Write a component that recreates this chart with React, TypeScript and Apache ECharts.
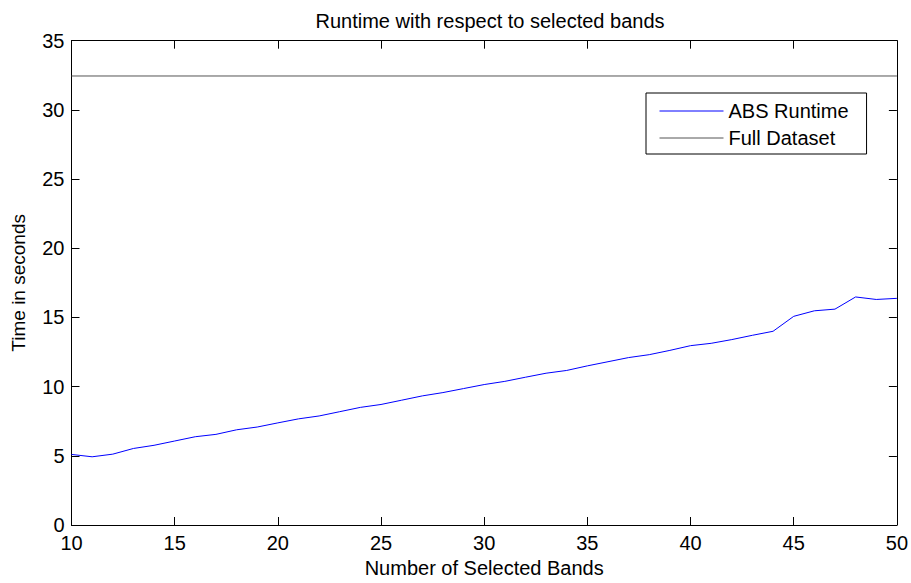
import React, { useEffect, useRef } from "react";
import * as echarts from "echarts";

const bands: number[] = [
  10, 11, 12, 13, 14, 15, 16, 17, 18, 19, 20, 21, 22, 23, 24, 25, 26, 27, 28, 29,
  30, 31, 32, 33, 34, 35, 36, 37, 38, 39, 40, 41, 42, 43, 44, 45, 46, 47, 48, 49, 50,
];
const absRuntime: number[] = [
  5.1, 4.93, 5.12, 5.53, 5.76, 6.07, 6.38, 6.55, 6.88, 7.08, 7.38, 7.67, 7.88, 8.19,
  8.5, 8.71, 9.02, 9.33, 9.57, 9.86, 10.15, 10.38, 10.68, 10.97, 11.17, 11.5, 11.8,
  12.1, 12.31, 12.62, 12.96, 13.13, 13.4, 13.71, 14.0, 15.08, 15.48, 15.6, 16.48,
  16.3, 16.38,
];
const fullDatasetBands: number[] = [10, 50];
const fullDatasetTime: number[] = [32.45, 32.45];
const seriesNames: string[] = ["ABS Runtime", "Full Dataset"];
const titleText = "Runtime with respect to selected bands";
const xAxisName = "Number of Selected Bands";
const yAxisName = "Time in seconds";

const FONT = "'Liberation Sans', Arial, Helvetica, sans-serif";

export default function App() {
  const ref = useRef<HTMLDivElement>(null);

  useEffect(() => {
    document.body.style.margin = "0";
    if (!ref.current) return;
    const chart = echarts.init(ref.current, undefined, { renderer: "svg" });

    const baseAxis = {
      axisLine: { show: true, onZero: false, lineStyle: { color: "#000", width: 1 } },
      axisTick: { show: true, inside: true, length: 8, lineStyle: { color: "#000", width: 1 } },
      splitLine: { show: false },
    };

    chart.setOption({
      animation: false,
      backgroundColor: "#fff",
      textStyle: { fontFamily: FONT },
      title: {
        text: titleText,
        left: 485,
        top: 6,
        textAlign: "center",
        textStyle: { fontFamily: FONT, fontSize: 20, fontWeight: "normal", color: "#000" },
      },
      legend: {
        orient: "vertical",
        left: 646,
        top: 93,
        padding: [8, 18, 6, 13],
        itemGap: 7,
        itemWidth: 64,
        itemHeight: 14,
        borderColor: "#000",
        borderWidth: 1,
        backgroundColor: "#fff",
        itemStyle: { opacity: 0 },
        lineStyle: { width: 1 },
        textStyle: { fontFamily: FONT, fontSize: 20, color: "#000" },
        data: [seriesNames[0], seriesNames[1]],
      },
      grid: { left: 71.5, right: 12, top: 40.7, bottom: 52.3, containLabel: false },
      xAxis: [
        {
          ...baseAxis,
          type: "value",
          position: "bottom",
          min: 10,
          max: 50,
          interval: 5,
          name: xAxisName,
          nameLocation: "middle",
          nameGap: 33,
          nameTextStyle: { fontFamily: FONT, fontSize: 20, color: "#000" },
          axisLabel: { fontFamily: FONT, fontSize: 20, color: "#000", margin: 8 },
        },
        {
          ...baseAxis,
          type: "value",
          position: "top",
          min: 10,
          max: 50,
          interval: 5,
          axisLabel: { show: false },
        },
      ],
      yAxis: [
        {
          ...baseAxis,
          type: "value",
          position: "left",
          min: 0,
          max: 35,
          interval: 5,
          name: yAxisName,
          nameLocation: "middle",
          nameGap: 44,
          nameRotate: 90,
          nameTextStyle: { fontFamily: FONT, fontSize: 19, color: "#000" },
          axisLabel: { fontFamily: FONT, fontSize: 20, color: "#000", margin: 7 },
        },
        {
          ...baseAxis,
          type: "value",
          position: "right",
          min: 0,
          max: 35,
          interval: 5,
          axisLabel: { show: false },
        },
      ],
      series: [
        {
          name: seriesNames[0],
          type: "line",
          xAxisIndex: 0,
          yAxisIndex: 0,
          showSymbol: false,
          symbol: "none",
          data: bands.map((b, i) => [b, absRuntime[i]]),
          lineStyle: { color: "#0000ff", width: 1 },
          itemStyle: { color: "#0000ff" },
        },
        {
          name: seriesNames[1],
          type: "line",
          xAxisIndex: 0,
          yAxisIndex: 0,
          showSymbol: false,
          symbol: "none",
          data: fullDatasetBands.map((b, i) => [b, fullDatasetTime[i]]),
          lineStyle: { color: "#555555", width: 1 },
          itemStyle: { color: "#555555" },
        },
      ],
    });

    return () => {
      chart.dispose();
    };
  }, []);

  return <div ref={ref} style={{ width: 911, height: 583 }} />;
}
